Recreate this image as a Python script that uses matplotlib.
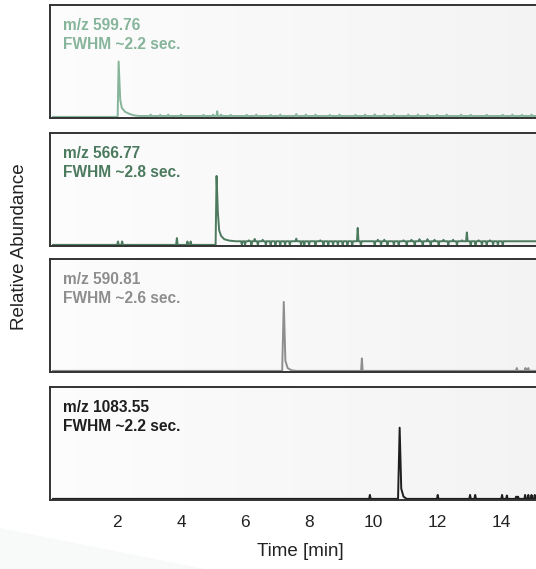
import matplotlib
matplotlib.use("Agg")
import matplotlib.pyplot as plt
from matplotlib.patches import Polygon
import numpy as np

plt.rcParams['font.family'] = ['Liberation Sans', 'DejaVu Sans']

# main shape of each chromatogram: time [min], intensity (fraction of panel height)
base1_t = [0.0, 2.02, 2.05, 2.07, 2.10, 2.15, 2.25, 2.40, 2.55, 2.70, 15.10]
base1_y = [0.01, 0.01, 0.50, 0.36, 0.16, 0.09, 0.055, 0.035, 0.022, 0.018, 0.018]
# small features (time, height) on top of the baseline
feat1 = [(2.85, 0.008), (3.05, 0.03), (3.2, 0.008), (3.35, 0.028), (3.45, 0.008), (3.6, 0.03),
         (3.75, 0.008), (4.0, 0.03), (4.15, 0.008), (4.35, 0.008), (4.55, 0.008), (4.7, 0.028),
         (4.85, 0.008), (5.0, 0.03), (5.13, 0.06), (5.25, 0.03), (5.4, 0.008), (5.55, 0.028),
         (5.75, 0.008), (5.9, 0.008), (6.05, 0.028), (6.2, 0.008), (6.35, 0.03), (6.5, 0.008),
         (6.65, 0.008), (6.8, 0.028), (6.95, 0.008), (7.1, 0.03), (7.3, 0.008), (7.45, 0.008),
         (7.6, 0.035), (7.75, 0.008), (7.9, 0.03), (8.05, 0.008), (8.2, 0.03), (8.35, 0.008),
         (8.5, 0.008), (8.65, 0.028), (8.8, 0.008), (8.95, 0.03), (9.1, 0.008), (9.3, 0.008),
         (9.45, 0.028), (9.6, 0.008), (9.75, 0.03), (9.9, 0.008), (10.05, 0.032), (10.2, 0.008),
         (10.35, 0.03), (10.5, 0.008), (10.65, 0.03), (10.8, 0.008), (10.95, 0.008), (11.1, 0.03),
         (11.25, 0.008), (11.4, 0.03), (11.55, 0.008), (11.7, 0.03), (11.85, 0.008), (12.0, 0.028),
         (12.15, 0.008), (12.3, 0.03), (12.45, 0.008), (12.6, 0.008), (12.75, 0.03), (12.9, 0.008),
         (13.05, 0.028), (13.2, 0.008), (13.4, 0.008), (13.55, 0.028), (13.7, 0.008), (13.9, 0.008),
         (14.05, 0.028), (14.2, 0.008), (14.35, 0.03), (14.5, 0.008), (14.65, 0.028), (14.8, 0.008),
         (14.95, 0.03)]

base2_t = [0.0, 5.08, 5.11, 5.15, 5.19, 5.25, 5.35, 5.50, 5.70, 15.10]
base2_y = [0.01, 0.01, 0.62, 0.30, 0.14, 0.09, 0.06, 0.048, 0.042, 0.042]
feat2 = [(2.03, 0.04), (2.16, 0.04), (3.87, 0.07), (4.2, 0.04), (4.3, 0.04),
         (5.9, 0.01), (6.0, 0.01), (6.12, 0.05), (6.2, 0.01), (6.3, 0.062), (6.4, 0.01),
         (6.55, 0.055), (6.65, 0.01), (6.8, 0.01), (6.95, 0.01), (7.1, 0.01), (7.25, 0.01),
         (7.4, 0.01), (7.6, 0.065), (7.75, 0.01), (7.85, 0.01), (8.0, 0.01), (8.2, 0.01),
         (8.35, 0.05), (8.45, 0.01), (8.6, 0.01), (8.75, 0.01), (8.9, 0.01), (9.05, 0.01),
         (9.2, 0.01), (9.35, 0.01), (9.52, 0.16), (9.62, 0.01), (10.05, 0.01), (10.15, 0.055),
         (10.25, 0.01), (10.35, 0.055), (10.45, 0.01), (10.65, 0.01), (10.8, 0.01), (10.95, 0.05),
         (11.05, 0.01), (11.2, 0.055), (11.3, 0.01), (11.45, 0.06), (11.55, 0.01), (11.7, 0.06),
         (11.8, 0.01), (11.92, 0.055), (12.05, 0.01), (12.2, 0.055), (12.35, 0.01), (12.5, 0.055),
         (12.62, 0.01), (12.78, 0.05), (12.93, 0.12), (13.05, 0.01), (13.2, 0.01), (13.3, 0.05),
         (13.4, 0.01), (13.55, 0.01), (13.65, 0.05), (13.75, 0.01), (13.9, 0.01), (14.05, 0.01)]

base3_t = [0.0, 7.16, 7.21, 7.26, 7.33, 7.45, 7.60, 15.10]
base3_y = [0.01, 0.01, 0.62, 0.10, 0.035, 0.015, 0.01, 0.01]
feat3 = [(9.65, 0.12), (14.49, 0.035), (14.76, 0.035), (14.85, 0.035)]

base4_t = [0.0, 10.78, 10.83, 10.88, 10.95, 11.05, 15.10]
base4_y = [0.01, 0.01, 0.64, 0.10, 0.03, 0.01, 0.01]
feat4 = [(9.90, 0.045), (12.02, 0.045), (13.03, 0.045), (13.19, 0.045), (14.03, 0.045),
         (14.18, 0.04), (14.47, 0.03), (14.53, 0.03), (14.75, 0.045), (14.85, 0.045),
         (14.95, 0.045), (15.05, 0.045)]

labels = ["m/z 599.76\nFWHM ~2.2 sec.", "m/z 566.77\nFWHM ~2.8 sec.",
          "m/z 590.81\nFWHM ~2.6 sec.", "m/z 1083.55\nFWHM ~2.2 sec."]
colors = ["#86b59b", "#4c7a5e", "#8e8e8e", "#1e1e1e"]
xticks = [2, 4, 6, 8, 10, 12, 14]


def make_trace(bt, by, feats, w=0.025):
    pts = list(zip(bt, by))
    for ft, fh in feats:
        b = float(np.interp(ft, bt, by))
        pts += [(ft - w, b), (ft, fh), (ft + w, b)]
    pts.sort(key=lambda p: p[0])
    return [p[0] for p in pts], [p[1] for p in pts]


traces = [make_trace(base1_t, base1_y, feat1), make_trace(base2_t, base2_y, feat2),
          make_trace(base3_t, base3_y, feat3), make_trace(base4_t, base4_y, feat4)]

W, H = 536, 569
fig = plt.figure(figsize=(W / 100, H / 100), dpi=100)

# faint swoosh in the lower-left corner
fig.patches.append(Polygon([[0, 1 - 528 / H], [205 / W, 0], [0, 0]], closed=True,
                           transform=fig.transFigure, facecolor="#f8f9f9",
                           edgecolor="none", zorder=-1))

tops = [5, 133, 259, 387]
ph = 113
left = 50 / W
shade = np.linspace(0.99, 0.955, 256)
grad = np.dstack([shade, shade, shade]).reshape(1, -1, 3)

for i, ((t, y), lab, c) in enumerate(zip(traces, labels, colors)):
    ax = fig.add_axes([left, 1 - (tops[i] + ph) / H, 1 - left, ph / H])
    ax.set_xlim(-0.094, 15.09)
    ax.set_ylim(0, 1)
    ax.imshow(grad, extent=[-0.094, 15.09, 0, 1], aspect="auto", zorder=0)
    ax.plot(t, y, color=c, lw=1.4, zorder=2)
    ax.text(0.027, 0.885, lab, transform=ax.transAxes, ha="left", va="top",
            fontsize=11.2, fontweight="bold", color=c, linespacing=1.3)
    for s in ["top", "left", "bottom"]:
        ax.spines[s].set_color("#333333")
        ax.spines[s].set_linewidth(1.4)
    ax.spines["right"].set_visible(False)
    ax.set_yticks([])
    if i < 3:
        ax.set_xticks([])
    else:
        ax.set_xticks(xticks)
        ax.set_xticklabels([str(v) for v in xticks], fontsize=12.5, color="#222222")
        ax.tick_params(axis="x", length=0, pad=11)

fig.text(300 / W, 1 - 551 / H, "Time [min]", ha="center", va="center", fontsize=13.5,
         color="#222222")
fig.text(20 / W, 1 - 247 / H, "Relative Abundance", ha="center", va="center",
         rotation=90, fontsize=13.5, color="#222222")

fig.savefig("out.png", dpi=100)
